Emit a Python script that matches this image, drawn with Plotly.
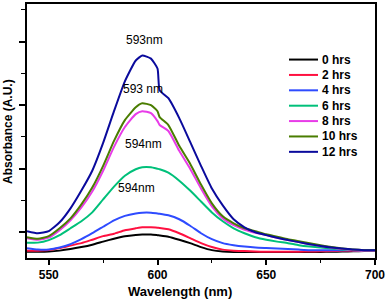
import plotly.graph_objects as go

wavelength = [540, 545, 550, 555, 560, 565, 570, 575, 580, 585, 590, 593, 597, 600, 601,
              605, 610, 615, 620, 625, 630, 635, 640, 645, 650, 655, 660, 665, 670, 675,
              680, 685, 690, 695, 700]

abs_0h = [0.346, 0.346, 0.348, 0.355, 0.367, 0.383, 0.402, 0.426, 0.449, 0.469, 0.479, 0.482,
          0.482, 0.477, 0.475, 0.465, 0.441, 0.414, 0.383, 0.359, 0.348, 0.344, 0.344, 0.344,
          0.344, 0.344, 0.344, 0.344, 0.344, 0.345, 0.346, 0.348, 0.350, 0.352, 0.352]
abs_2h = [0.355, 0.355, 0.359, 0.375, 0.395, 0.414, 0.441, 0.469, 0.488, 0.516, 0.531, 0.539,
          0.539, 0.535, 0.534, 0.523, 0.492, 0.453, 0.414, 0.383, 0.363, 0.355, 0.352, 0.348,
          0.346, 0.346, 0.346, 0.347, 0.348, 0.350, 0.352, 0.354, 0.355, 0.355, 0.355]
abs_4h = [0.373, 0.363, 0.363, 0.379, 0.406, 0.445, 0.492, 0.543, 0.594, 0.629, 0.648, 0.654,
          0.654, 0.648, 0.646, 0.633, 0.602, 0.551, 0.492, 0.445, 0.414, 0.398, 0.387, 0.379,
          0.375, 0.371, 0.367, 0.363, 0.359, 0.359, 0.359, 0.359, 0.359, 0.359, 0.359]
abs_6h = [0.418, 0.418, 0.438, 0.477, 0.531, 0.586, 0.656, 0.758, 0.859, 0.945, 0.996, 1.012,
          1.012, 1.000, 0.996, 0.969, 0.906, 0.828, 0.742, 0.656, 0.586, 0.531, 0.492, 0.461,
          0.441, 0.426, 0.414, 0.398, 0.387, 0.379, 0.371, 0.363, 0.359, 0.355, 0.355]
abs_8h = [0.453, 0.441, 0.457, 0.516, 0.594, 0.695, 0.820, 0.984, 1.172, 1.328, 1.430, 1.453,
          1.438, 1.375, 1.344, 1.297, 1.141, 1.000, 0.844, 0.703, 0.609, 0.555, 0.520, 0.496,
          0.477, 0.457, 0.438, 0.422, 0.406, 0.391, 0.379, 0.367, 0.359, 0.355, 0.355]
abs_10h = [0.461, 0.449, 0.469, 0.531, 0.609, 0.719, 0.852, 1.023, 1.219, 1.383, 1.484, 1.516,
           1.500, 1.453, 1.406, 1.344, 1.180, 1.039, 0.875, 0.727, 0.625, 0.570, 0.531, 0.508,
           0.484, 0.465, 0.445, 0.430, 0.414, 0.398, 0.383, 0.371, 0.363, 0.359, 0.359]
abs_12h = [0.508, 0.492, 0.508, 0.578, 0.688, 0.828, 0.984, 1.203, 1.453, 1.688, 1.852, 1.891,
           1.867, 1.789, 1.617, 1.555, 1.398, 1.211, 1.023, 0.844, 0.711, 0.602, 0.539, 0.500,
           0.477, 0.457, 0.438, 0.422, 0.406, 0.391, 0.379, 0.371, 0.363, 0.359, 0.359]

series_names = ["0 hrs", "2 hrs", "4 hrs", "6 hrs", "8 hrs", "10 hrs", "12 hrs"]
series_values = [abs_0h, abs_2h, abs_4h, abs_6h, abs_8h, abs_10h, abs_12h]
colors = ["#000000", "#FF1040", "#2E4BFF", "#00C07A", "#E83CE8", "#4A7D00", "#0A0A9C"]

peak_labels = ["593nm", "593 nm", "594nm", "594nm"]
peak_label_x = [594.0, 593.5, 593.5, 590.2]
peak_label_y = [2.016, 1.625, 1.193, 0.849]

xtick_vals = [550, 600, 650, 700]

FONT = "Arial, 'Liberation Sans', sans-serif"

fig = go.Figure()
for name, vals, col in zip(series_names, series_values, colors):
    fig.add_trace(go.Scatter(x=wavelength, y=vals, mode="lines", name=name,
                             line=dict(color=col, width=2, shape="spline", smoothing=0.5),
                             showlegend=False))

# Peak annotations
for txt, xx, yy in zip(peak_labels, peak_label_x, peak_label_y):
    fig.add_annotation(x=xx, y=yy, xref="x", yref="y", text=txt, showarrow=False,
                       font=dict(family=FONT, size=12, color="#000000"),
                       xanchor="center", yanchor="middle")

# Manual legend (paper coordinates)
W, H = 348.0, 256.0
L, T = 27.0, 2.0
leg_top_px = 58.0
leg_step_px = 15.5
for i, (name, col) in enumerate(zip(series_names, colors)):
    py = leg_top_px + i * leg_step_px
    yp = (258.0 - py) / H
    x0 = (289.0 - L) / W
    x1 = (318.0 - L) / W
    fig.add_shape(type="line", xref="paper", yref="paper", x0=x0, x1=x1, y0=yp, y1=yp,
                  line=dict(color=col, width=2))
    fig.add_annotation(xref="paper", yref="paper", x=(320.0 - L) / W, y=yp, text=name,
                       showarrow=False, xanchor="left", yanchor="middle",
                       font=dict(family=FONT, size=12, color="#000000", weight="bold"))

# Axis titles as annotations
fig.add_annotation(xref="paper", yref="paper", x=(179.5 - L) / W, y=(258.0 - 292.0) / H,
                   text="Wavelength (nm)", showarrow=False, xanchor="center", yanchor="middle",
                   font=dict(family=FONT, size=13, color="#000000", weight="bold"))
fig.add_annotation(xref="paper", yref="paper", x=(8.0 - L) / W, y=(258.0 - 131.0) / H,
                   text="Absorbance (A.U.)", showarrow=False, textangle=-90,
                   xanchor="center", yanchor="middle",
                   font=dict(family=FONT, size=12, color="#000000", weight="bold"))

fig.update_layout(
    width=388, height=302,
    margin=dict(l=27, r=13, t=2, b=44),
    paper_bgcolor="white", plot_bgcolor="white",
    font=dict(family=FONT, color="#000000"),
    xaxis=dict(range=[540, 700], tickvals=xtick_vals, ticktext=[str(v) for v in xtick_vals],
               ticks="outside", ticklen=5, tickwidth=1.5, tickcolor="#000",
               minor=dict(dtick=25, tick0=525, ticks="outside", ticklen=3, tickcolor="#000", tickwidth=1),
               showline=True, linecolor="#000", linewidth=2, mirror=True,
               showgrid=False, zeroline=False,
               tickfont=dict(family=FONT, size=12, color="#000", weight="bold")),
    yaxis=dict(range=[0.297, 2.297], tick0=0.5, dtick=0.5,
               ticks="outside", ticklen=6, tickwidth=1.5, tickcolor="#000",
               minor=dict(dtick=0.25, tick0=0.25, ticks="outside", ticklen=4, tickcolor="#000", tickwidth=1),
               showticklabels=False,
               showline=True, linecolor="#000", linewidth=2, mirror=True,
               showgrid=False, zeroline=False),
)

fig.write_html("out.html", config={"displayModeBar": False},
               post_script="document.body.style.margin='0';document.body.style.padding='0';")
